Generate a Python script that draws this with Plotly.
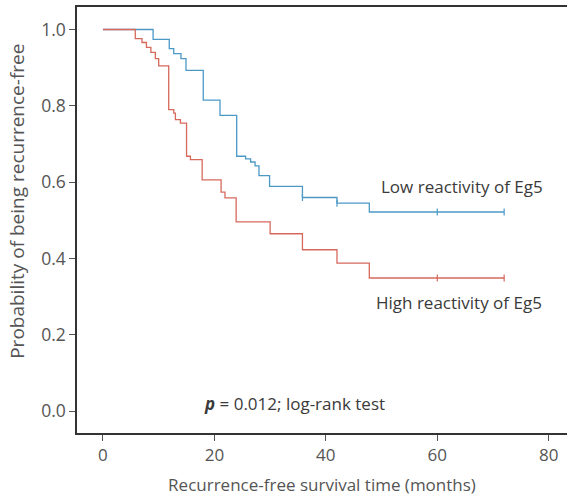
import plotly.graph_objects as go

# Kaplan-Meier step data (time in months, survival probability after each drop)
low_t = [0, 9.0, 11.9, 12.7, 14.0, 14.9, 18.0, 21.0, 24.0, 25.6, 26.5, 27.3, 28.0, 29.9, 35.8, 42.0, 47.8, 72.0]
low_p = [1.0, 0.974, 0.950, 0.937, 0.924, 0.893, 0.815, 0.775, 0.668, 0.661, 0.653, 0.643, 0.617, 0.589, 0.560, 0.545, 0.522, 0.522]

high_t = [0, 5.8, 7.0, 7.8, 8.6, 9.4, 10.0, 11.8, 12.7, 13.0, 13.9, 15.0, 15.7, 17.8, 21.2, 21.9, 23.9, 30.0, 35.8, 42.0, 47.8, 72.0]
high_p = [1.0, 0.976, 0.966, 0.953, 0.940, 0.924, 0.905, 0.790, 0.781, 0.764, 0.755, 0.668, 0.659, 0.606, 0.574, 0.559, 0.496, 0.465, 0.423, 0.388, 0.349, 0.349]

low_censor = [35.8, 42.0, 60.0, 72.0]
high_censor = [60.0, 72.0]

x_ticks = [0, 20, 40, 60, 80]
y_ticks = [0.0, 0.2, 0.4, 0.6, 0.8, 1.0]
y_tick_labels = ["0.0", "0.2", "0.4", "0.6", "0.8", "1.0"]

BLUE = "#4c99c6"
RED = "#d6695c"
FONT = "Open Sans"


def km_value(ts, ps, t):
    v = ps[0]
    for ti, pi in zip(ts, ps):
        if ti <= t:
            v = pi
    return v


fig = go.Figure()
fig.add_trace(go.Scatter(x=low_t, y=low_p, mode="lines", line=dict(color=BLUE, width=1.3, shape="hv"),
                         showlegend=False, hoverinfo="skip"))
fig.add_trace(go.Scatter(x=high_t, y=high_p, mode="lines", line=dict(color=RED, width=1.3, shape="hv"),
                         showlegend=False, hoverinfo="skip"))
fig.add_trace(go.Scatter(x=low_censor, y=[km_value(low_t, low_p, t) for t in low_censor], mode="markers",
                         marker=dict(symbol="line-ns", size=5, line=dict(color=BLUE, width=1.2)),
                         showlegend=False, hoverinfo="skip"))
fig.add_trace(go.Scatter(x=high_censor, y=[km_value(high_t, high_p, t) for t in high_censor], mode="markers",
                         marker=dict(symbol="line-ns", size=5, line=dict(color=RED, width=1.2)),
                         showlegend=False, hoverinfo="skip"))

ann_font = dict(family=FONT, size=17, color="#3a3a3a")
fig.add_annotation(x=64.4, y=0.589, text="Low reactivity of Eg5", showarrow=False,
                   font=ann_font, xanchor="center", yanchor="middle")
fig.add_annotation(x=63.9, y=0.286, text="High reactivity of Eg5", showarrow=False,
                   font=ann_font, xanchor="center", yanchor="middle")
fig.add_annotation(x=34.4, y=0.0215, text="<b><i>p</i></b> = 0.012; log-rank test", showarrow=False,
                   font=ann_font, xanchor="center", yanchor="middle")
# y-axis title (placed as rotated text, slightly above the plot's vertical centre as in the original)
fig.add_annotation(xref="paper", x=-0.1214, y=0.55, text="Probability of being recurrence-free",
                   showarrow=False, textangle=-90, xanchor="center", yanchor="middle",
                   font=dict(family=FONT, size=19, color="#555555"))

fig.update_layout(
    width=567, height=496,
    margin=dict(l=77, r=0, t=7, b=63),
    paper_bgcolor="white", plot_bgcolor="white",
    font=dict(family=FONT, size=17, color="#555555"),
    xaxis=dict(range=[-4.66, 83.28], tickvals=x_ticks, ticks="outside", ticklen=6, tickwidth=1,
               tickcolor="#555555", showline=True, linecolor="#333333", linewidth=1.5, mirror=True,
               showgrid=False, zeroline=False, tickfont=dict(size=17),
               title=dict(text="Recurrence-free survival time (months)", standoff=14,
                          font=dict(family=FONT, size=17, color="#555555"))),
    yaxis=dict(range=[-0.057, 1.059], tickvals=y_ticks, ticktext=y_tick_labels, ticks="outside", ticklen=6,
               tickwidth=1, tickcolor="#555555", showline=True, linecolor="#333333", linewidth=1.5,
               mirror=False, showgrid=False, zeroline=False, tickfont=dict(size=17.5)),
)

fig.write_html("out.html")
